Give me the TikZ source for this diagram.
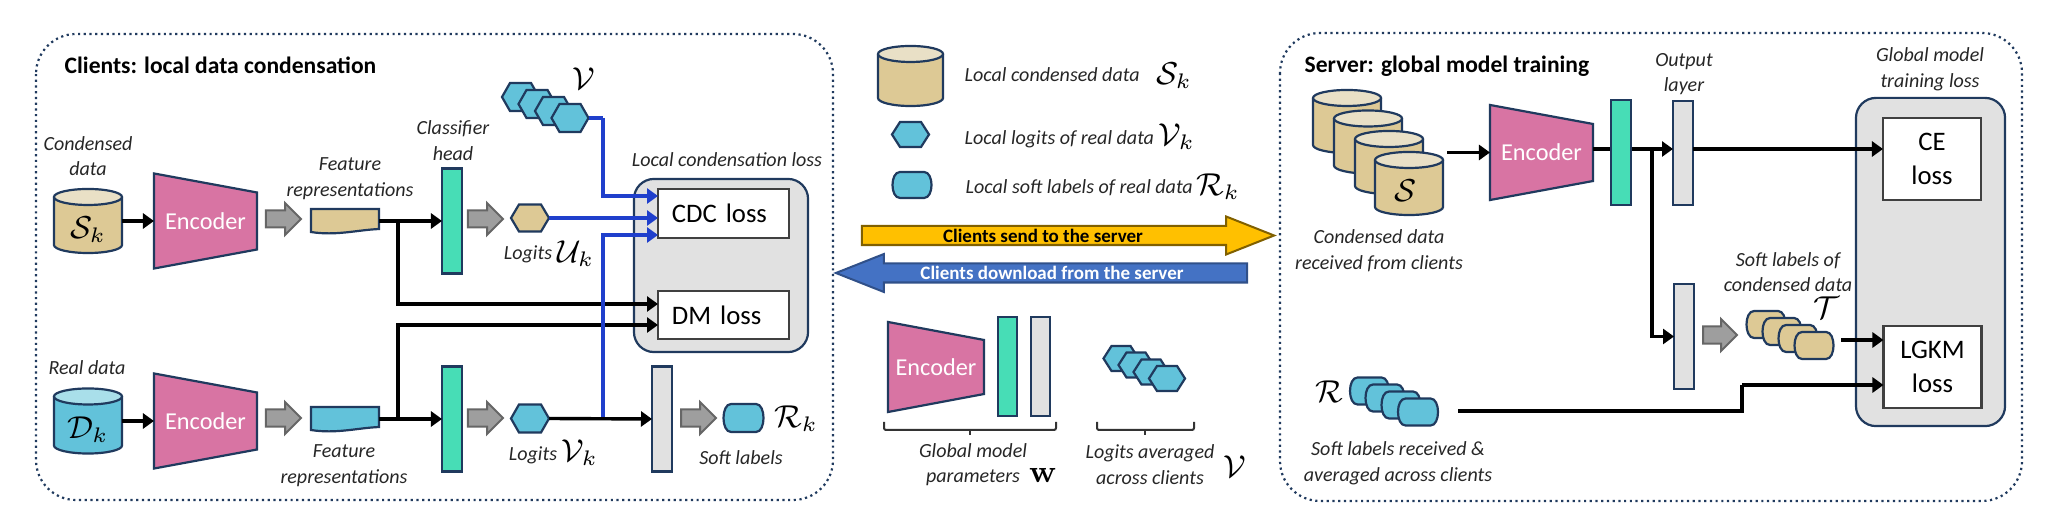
\documentclass[tikz,border=0pt]{standalone}
\usepackage[no-math]{fontspec}
\usepackage{amsmath}
\usepackage{xcolor}
\setmainfont{Carlito}
\usetikzlibrary{arrows.meta}

\definecolor{navyline}{HTML}{203A5E}
\definecolor{tanfill}{HTML}{DDC995}
\definecolor{tantop}{HTML}{E9E0C6}
\definecolor{bluefill}{HTML}{62C2DA}
\definecolor{bluetop}{HTML}{A9DFEA}
\definecolor{pinkfill}{HTML}{D874A3}
\definecolor{greenfill}{HTML}{47DDB6}
\definecolor{greyfill}{HTML}{E1E1E1}
\definecolor{wireblue}{HTML}{1F3FCC}
\definecolor{yellowfill}{HTML}{FFC000}
\definecolor{arrowblue}{HTML}{4472C4}

\tikzset{
    panel/.style={draw=navyline,line width=.022cm,densely dotted,rounded corners=.4cm},
    hullbox/.style={inner sep=0,outer sep=0},
    outl/.style={draw=navyline,line width=.022cm},
    tanshape/.style={outl,fill=tanfill},
    blueshape/.style={outl,fill=bluefill},
    encshape/.style={outl,fill=pinkfill},
    enctext/.style={text=white,font=\fontsize{6.9}{9}\selectfont},
    greenbar/.style={outl,fill=greenfill,inner sep=0,outer sep=0},
    greybar/.style={outl,fill=greyfill,inner sep=0,outer sep=0},
    lossgrey/.style={outl,fill=greyfill,rounded corners=.2cm,inner sep=0},
    losswhite/.style={draw=black!75,line width=.025cm,fill=white,inner sep=0,outer sep=0,
        font=\fontsize{7.6}{9.7}\selectfont,align=center},
    lab/.style={inner sep=0,align=center,text=black!85,font=\fontsize{5.7}{6.9}\selectfont\itshape},
    title/.style={inner sep=0,anchor=west,font=\fontsize{6.7}{7}\selectfont\bfseries},
    mathlab/.style={inner sep=0,text=black,font=\fontsize{9}{11}\selectfont},
    greylook/.style={draw=black!60,fill=black!38,line width=.02cm},
    yellowlook/.style={draw=yellowfill!50!black,fill=yellowfill,line width=.02cm},
    bluelook/.style={draw=arrowblue!70!black,fill=arrowblue,line width=.02cm},
    wire/.style={line width=.034cm,black,-{Triangle[length=.11cm,width=.15cm]}},
    plainwire/.style={line width=.034cm,black},
    bluewire/.style={line width=.032cm,wireblue,-{Triangle[length=.11cm,width=.15cm]}},
    bluerun/.style={line width=.032cm,wireblue},
    bracket/.style={line width=.02cm,black!80,rounded corners=.02cm},
}

% name, x, y, width, height, look
\newcommand{\logit}[6]{
    \node[hullbox,minimum width=#4cm,minimum height=#5cm] (#1) at (#2,#3){};
    \draw[#6] (#1.west)--([xshift=.08cm]#1.north west)--([xshift=-.08cm]#1.north east)--(#1.east)
        --([xshift=-.08cm]#1.south east)--([xshift=.08cm]#1.south west)--cycle;
}
% name, x, y, width, height, look
\newcommand{\softlabel}[6]{
    \node[hullbox,minimum width=#4cm,minimum height=#5cm] (#1) at (#2,#3){};
    \draw[#6] ([xshift=.07cm]#1.north west)--([xshift=-.07cm]#1.north east)
        .. controls ([xshift=.03cm]#1.north east) and ([xshift=.03cm]#1.south east) .. ([xshift=-.07cm]#1.south east)
        --([xshift=.07cm]#1.south west)
        .. controls ([xshift=-.03cm]#1.south west) and ([xshift=-.03cm]#1.north west) .. ([xshift=.07cm]#1.north west)--cycle;
}
% name, x, y, width, height, look
\newcommand{\tape}[6]{
    \node[hullbox,minimum width=#4cm,minimum height=#5cm] (#1) at (#2,#3){};
    \draw[#6] (#1.north west)--(#1.north east)--([yshift=.04cm]#1.south east)
        .. controls ([xshift=-.22cm,yshift=.03cm]#1.south east) and ([xshift=.25cm,yshift=-.03cm]#1.south west) .. ([yshift=.01cm]#1.south west)--cycle;
}
% name, x, y, width, height, body look, top colour
\newcommand{\drum}[7]{
    \node[hullbox,minimum width=#4cm,minimum height=#5cm] (#1) at (#2,#3){};
    \draw[#6] ([yshift=-.08cm]#1.north west)--([yshift=.08cm]#1.south west)
        arc[start angle=180,end angle=360,x radius=.5*#4cm,y radius=.08cm]
        --([yshift=-.08cm]#1.north east);
    \draw[outl,fill=#7] ([yshift=-.08cm]#1.north) ellipse[x radius=.5*#4cm,y radius=.08cm];
}
% name, x, y, width, height, inset of the narrow end
\newcommand{\encoder}[6]{
    \node[hullbox,minimum width=#4cm,minimum height=#5cm] (#1) at (#2,#3){};
    \draw[encshape] (#1.north west)--([yshift=-#6cm]#1.north east)--([yshift=#6cm]#1.south east)--(#1.south west)--cycle;
    \node[enctext] (#1text) at (#1.center){Encoder};
}
% name, x, y, length, height, shaft inset, head length, look
\newcommand{\fatright}[8]{
    \node[hullbox,minimum width=#4cm,minimum height=#5cm] (#1) at (#2,#3){};
    \draw[#8] ([yshift=-#6cm]#1.north west)--([xshift=-#7cm,yshift=-#6cm]#1.north east)--([xshift=-#7cm]#1.north east)--(#1.east)
        --([xshift=-#7cm]#1.south east)--([xshift=-#7cm,yshift=#6cm]#1.south east)--([yshift=#6cm]#1.south west)--cycle;
}
\newcommand{\fatleft}[8]{
    \node[hullbox,minimum width=#4cm,minimum height=#5cm] (#1) at (#2,#3){};
    \draw[#8] ([yshift=-#6cm]#1.north east)--([xshift=#7cm,yshift=-#6cm]#1.north west)--([xshift=#7cm]#1.north west)--(#1.west)
        --([xshift=#7cm]#1.south west)--([xshift=#7cm,yshift=#6cm]#1.south west)--([yshift=#6cm]#1.south east)--cycle;
}

\begin{document}
\begin{tikzpicture}[x=0.01cm,y=-0.01cm]
    \useasboundingbox (0,0) rectangle (2049,510);
    % clients panel
        \draw[panel] (36,34) rectangle (833,500);
        \node[title] (clienttitle) at (64,65){Clients: local data condensation};
        \node[lossgrey,minimum width=1.74cm,minimum height=1.73cm] (localloss) at (721,265.5){};
        \node[losswhite,minimum width=1.31cm,minimum height=.49cm,text width=1.03cm,align=left] (cdc) at (723.5,213.5){CDC loss};
        \node[losswhite,minimum width=1.31cm,minimum height=.48cm,text width=1.03cm,align=left] (dm) at (723.5,315){DM loss};
        \node[lab] (locallosstext) at (727,160){Local condensation loss};
        \coordinate (cdcina) at (658,196);
        \coordinate (cdcinb) at (658,218);
        \coordinate (cdcinc) at (658,235);
        \coordinate (dmina) at (658,304);
        \coordinate (dminb) at (658,325);
    % top row
        \node[lab] (condtext) at (88,156){Condensed\\[.4pt]data};
        \drum{skdrum}{88}{221}{.68}{.64}{tanshape}{tantop}
        \node[mathlab] (sklabel) at (88,230){$\mathcal{S}_k$};
        \encoder{enca}{205.5}{221}{1.03}{.95}{.19}
        \draw[wire] (skdrum.east)--(enca.west);
        \fatright{fata}{283.5}{219}{.35}{.32}{.075}{.16}{greylook}
        \tape{feata}{345}{221}{.68}{.24}{tanshape}
        \node[lab] (feattexta) at (350,178.5){Feature\\[.4pt]representations};
        \node[greenbar,minimum width=.2cm,minimum height=1.05cm] (heada) at (452,221){};
        \node[lab] (headtext) at (453,140.5){Classifier\\[.4pt]head};
        \coordinate (splita) at (398,221);
        \draw[wire] (feata.east)--(heada.west);
        \draw[wire] (splita)|-(dmina);
        \fatright{fatb}{485.5}{219}{.35}{.32}{.075}{.16}{greylook}
        \logit{ukhex}{530}{218}{.38}{.27}{tanshape}
        \node[lab] (ukword) at (528,254){Logits};
        \node[mathlab] (uklabel) at (576,254){$\mathcal{U}_k$};
    % averaged logits
        \logit{vhexa}{520.5}{97}{.37}{.28}{blueshape}
        \logit{vhexb}{537}{104}{.37}{.28}{blueshape}
        \logit{vhexc}{553.5}{111}{.37}{.28}{blueshape}
        \logit{vhexd}{570}{118}{.37}{.28}{blueshape}
        \node[mathlab] (vlabel) at (584,79){$\mathcal{V}$};
    % bottom row
        \node[lab] (realtext) at (87,368){Real data};
        \drum{dkdrum}{88}{421}{.68}{.65}{blueshape}{bluetop}
        \node[mathlab] (dklabel) at (88,430){$\mathcal{D}_k$};
        \encoder{encb}{205.5}{421}{1.03}{.95}{.19}
        \draw[wire] (dkdrum.east)--(encb.west);
        \fatright{fatc}{283.5}{418}{.35}{.32}{.075}{.16}{greylook}
        \tape{featb}{345}{419}{.68}{.24}{blueshape}
        \node[lab] (feattextb) at (344,465.5){Feature\\[.4pt]representations};
        \node[greenbar,minimum width=.2cm,minimum height=1.05cm] (headb) at (452,419){};
        \coordinate (splitb) at (398,419);
        \draw[wire] (featb.east)--(headb.west);
        \draw[wire] (splitb)|-(dminb);
        \fatright{fatd}{485.5}{418}{.35}{.32}{.075}{.16}{greylook}
        \logit{vkhex}{530}{418.5}{.38}{.28}{blueshape}
        \node[lab] (vkword) at (533,455){Logits};
        \node[mathlab] (vklabel) at (580,453){$\mathcal{V}_k$};
        \node[greybar,minimum width=.2cm,minimum height=1.05cm] (softhead) at (662,419){};
        \fatright{fate}{698.5}{418}{.35}{.32}{.075}{.16}{greylook}
        \softlabel{rksoft}{743.5}{418}{.39}{.28}{blueshape}
        \node[mathlab] (rklabel) at (796,419){$\mathcal{R}_k$};
        \node[lab] (softtext) at (741,458){Soft labels};
    % blue wires
        \coordinate (vturn) at (603,118);
        \coordinate (vjoin) at (603,418.5);
        \draw[bluerun] (vhexd.east)--(vturn);
        \draw[bluewire] (vturn)|-(cdcina);
        \draw[bluewire] (ukhex.east)--(cdcinb);
        \draw[bluewire] (vjoin)|-(cdcinc);
        \draw[wire] (vkhex.east)--(softhead.west);
    % legend
        \drum{legdrum}{910.5}{76}{.65}{.60}{tanshape}{tantop}
        \node[lab,anchor=west] (legs) at (964,75){Local condensed data};
        \node[mathlab] (legslabel) at (1174,76){$\mathcal{S}_k$};
        \logit{leghex}{910.5}{134.5}{.37}{.25}{blueshape}
        \node[lab,anchor=west] (legv) at (964,139){Local logits of real data};
        \node[mathlab] (legvlabel) at (1177,137){$\mathcal{V}_k$};
        \softlabel{legsoft}{912}{185}{.38}{.26}{blueshape}
        \node[lab,anchor=west] (legr) at (965,188){Local soft labels of real data};
        \node[mathlab] (legrlabel) at (1218,187){$\mathcal{R}_k$};
    % big arrows
        \fatright{sendarrow}{1068}{235.5}{4.12}{.38}{.095}{.48}{yellowlook}
        \node[inner sep=0,font=\fontsize{5.4}{6}\selectfont\bfseries] (sendtext) at (1043,235.5){Clients send to the server};
        \fatleft{getarrow}{1041.5}{273}{4.11}{.38}{.095}{.48}{bluelook}
        \node[inner sep=0,text=white,font=\fontsize{5.4}{6}\selectfont\bfseries] (gettext) at (1052,273){Clients download from the server};
    % global model
        \encoder{encc}{936}{367}{.96}{.90}{.18}
        \node[greenbar,minimum width=.19cm,minimum height=.99cm] (headc) at (1007.5,366.5){};
        \node[greybar,minimum width=.19cm,minimum height=.99cm] (outc) at (1040.5,366.5){};
        \draw[bracket] (884,422)--(884,430)--(1056,430)--(1056,422);
        \draw[bracket] (970,430)--(970,435);
        \node[lab] (globaltext) at (973,464.5){Global model\\[.4pt]parameters};
        \node[mathlab] (wlabel) at (1043,475){$\mathbf{w}$};
        \logit{mhexa}{1121}{358.5}{.35}{.25}{blueshape}
        \logit{mhexb}{1136}{365}{.35}{.25}{blueshape}
        \logit{mhexc}{1151}{372}{.35}{.25}{blueshape}
        \logit{mhexd}{1167}{378.5}{.36}{.25}{blueshape}
        \draw[bracket] (1097,422)--(1097,430)--(1194,430)--(1194,422);
        \draw[bracket] (1145,430)--(1145,435);
        \node[lab] (avgtext) at (1150,464.5){Logits averaged\\[.4pt]across clients};
        \node[mathlab] (avglabel) at (1235,467){$\mathcal{V}$};
    % server panel
        \draw[panel] (1280,33) rectangle (2022,501);
        \node[title] (servertitle) at (1304,66){Server: global model training};
        \node[lossgrey,minimum width=1.49cm,minimum height=3.28cm] (globalloss) at (1930.5,262){};
        \node[losswhite,minimum width=.98cm,minimum height=.82cm] (ce) at (1932,159){CE\\loss};
        \node[losswhite,minimum width=.98cm,minimum height=.82cm] (lgkm) at (1932.5,367){LGKM\\loss};
        \node[lab] (globallosstext) at (1930,69.5){Global model\\[.4pt]training loss};
        \drum{sdruma}{1347}{121.5}{.68}{.63}{tanshape}{tantop}
        \drum{sdrumb}{1368}{142}{.68}{.63}{tanshape}{tantop}
        \drum{sdrumc}{1389}{162.5}{.68}{.63}{tanshape}{tantop}
        \drum{sdrumd}{1409}{183.5}{.68}{.63}{tanshape}{tantop}
        \node[mathlab] (slabel) at (1406,191){$\mathcal{S}$};
        \node[lab] (receivedtext) at (1379,251){Condensed data\\[.4pt]received from clients};
        \coordinate (drumout) at (1447,152.5);
        \encoder{encd}{1541.5}{152.5}{1.03}{.95}{.19}
        \draw[wire] (drumout)--(encd.west);
        \coordinate (encout) at (1593,149);
        \coordinate (splitc) at (1652,149);
        \node[greybar,minimum width=.2cm,minimum height=1.04cm] (outd) at (1683,153){};
        \node[greybar,minimum width=.2cm,minimum height=1.05cm] (softd) at (1684,336.5){};
        \draw[wire] (encout)--(encout -| outd.west);
        \node[greenbar,minimum width=.2cm,minimum height=1.05cm] (headd) at (1621,152.5){};
        \draw[wire] (splitc)|-(softd.west);
        \draw[wire] (encout -| outd.east)--(encout -| ce.west);
        \node[lab] (outtext) at (1684,74){Output\\[.4pt]layer};
        \fatright{fatf}{1720}{335}{.34}{.32}{.075}{.16}{greylook}
        \softlabel{tsofta}{1766}{324.5}{.38}{.27}{tanshape}
        \softlabel{tsoftb}{1782}{331.5}{.38}{.27}{tanshape}
        \softlabel{tsoftc}{1798}{338.5}{.38}{.27}{tanshape}
        \softlabel{tsoftd}{1814}{345.5}{.38}{.27}{tanshape}
        \node[mathlab] (tlabel) at (1826,308){$\mathcal{T}$};
        \node[lab] (softcondtext) at (1788,272){Soft labels of\\[.4pt]condensed data};
        \coordinate (tout) at (1841,340);
        \draw[wire] (tout)--(tout -| lgkm.west);
        \softlabel{rsofta}{1369.5}{391}{.38}{.27}{blueshape}
        \softlabel{rsoftb}{1385}{398}{.38}{.27}{blueshape}
        \softlabel{rsoftc}{1401}{405}{.38}{.27}{blueshape}
        \softlabel{rsoftd}{1418}{412}{.39}{.27}{blueshape}
        \node[mathlab] (rlabel) at (1329,392){$\mathcal{R}$};
        \node[lab] (softavgtext) at (1398,463){Soft labels received \&\\[.4pt]averaged across clients};
        \coordinate (rout) at (1458,411);
        \coordinate (rturn) at (1742,385);
        \draw[plainwire] (rout)-|(rturn);
        \draw[wire] (rturn)--(rturn -| lgkm.west);
\end{tikzpicture}
\end{document}
